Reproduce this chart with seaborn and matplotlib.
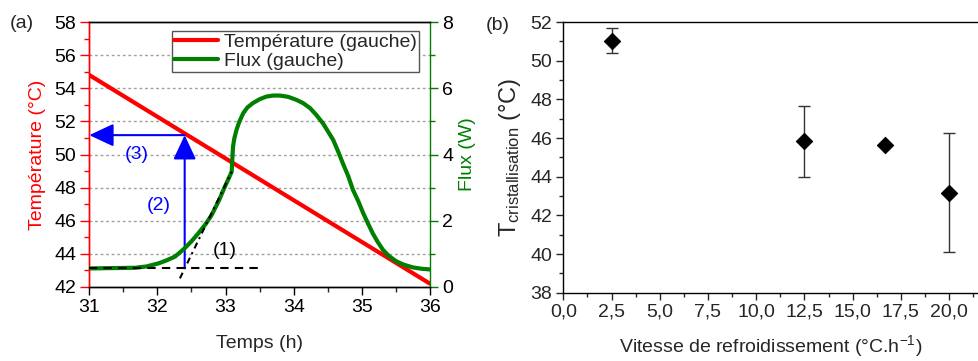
import numpy as np
import pandas as pd
import seaborn as sns
import matplotlib.pyplot as plt
from matplotlib.ticker import MultipleLocator, FuncFormatter
from matplotlib.lines import Line2D

sns.set_style('ticks')
plt.rcParams['font.family'] = ['Liberation Sans', 'DejaVu Sans']
plt.rcParams['mathtext.fontset'] = 'custom'
plt.rcParams['mathtext.rm'] = 'Liberation Sans'
plt.rcParams['mathtext.it'] = 'Liberation Sans'

# ------------------------------------------------------------------------------
# Data
# ------------------------------------------------------------------------------
# (a) temperature ramp (linear) and heat flux vs time
temp_time = [31.0, 36.0]
temp_values = [54.8, 42.2]

flux_time = [31.0, 31.33, 31.67, 31.84, 32.01, 32.13, 32.26, 32.40, 32.50, 32.60,
             32.70, 32.79, 32.90, 32.99, 33.05, 33.09, 33.10, 33.11, 33.13, 33.16,
             33.20, 33.26, 33.32, 33.40, 33.50, 33.60, 33.70, 33.80, 33.92, 34.04,
             34.14, 34.24, 34.33, 34.43, 34.58, 34.65, 34.72, 34.80, 34.87, 34.95,
             35.02, 35.09, 35.16, 35.23, 35.31, 35.40, 35.51, 35.62, 35.75, 35.88, 36.0]
flux_values = [0.56, 0.57, 0.58, 0.62, 0.71, 0.80, 0.92, 1.17, 1.38, 1.62,
               1.88, 2.15, 2.60, 3.03, 3.30, 3.48, 3.90, 4.24, 4.50, 4.74,
               4.98, 5.25, 5.42, 5.55, 5.67, 5.75, 5.78, 5.78, 5.74, 5.65,
               5.55, 5.40, 5.20, 4.94, 4.44, 4.10, 3.74, 3.35, 2.93, 2.58,
               2.23, 1.92, 1.62, 1.37, 1.12, 0.93, 0.77, 0.67, 0.59, 0.55, 0.53]

# construction lines: baseline (1) and tangent at the onset
baseline_time = [31.0, 33.5]
baseline_flux = [0.58, 0.58]
tangent_time = [32.33, 33.09]
tangent_flux = [0.26, 3.48]

# onset time and crystallisation temperature read on the ramp
onset_time = 32.40
onset_temp = 43.17
cryst_temp = 51.17

# (b) crystallisation temperature vs cooling rate
rates = [2.5, 12.5, 16.7, 20.0]
t_cryst = [51.03, 45.83, 45.64, 43.17]
t_err = [0.65, 1.82, 0.0, 3.07]

RED = '#ff0000'
GREEN = '#007f00'
BLUE = '#0000ff'
FS = 14

# ------------------------------------------------------------------------------
# Figure
# ------------------------------------------------------------------------------
fig = plt.figure(figsize=(9.79, 3.61), dpi=100)

# ----- panel (a) -----
ax1 = fig.add_axes([0.0912, 0.205, 0.348, 0.734])
ax2 = ax1.twinx()

df_temp = pd.DataFrame({'t': temp_time, 'T': temp_values})
df_flux = pd.DataFrame({'t': flux_time, 'F': flux_values})

sns.lineplot(data=df_temp, x='t', y='T', ax=ax1, color=RED, lw=3, zorder=3)
sns.lineplot(data=df_flux, x='t', y='F', ax=ax2, color=GREEN, lw=3, zorder=3)
sns.lineplot(x=baseline_time, y=baseline_flux, ax=ax2, color='black', lw=1.5,
             linestyle=(0, (4, 3)), zorder=4)
sns.lineplot(x=tangent_time, y=tangent_flux, ax=ax2, color='black', lw=1.5,
             linestyle=(0, (3, 2, 1, 2)), zorder=4)

ax1.set_xlim(31, 36)
ax1.set_ylim(42, 58)
ax2.set_ylim(0, 8)

ax1.xaxis.set_major_locator(MultipleLocator(1))
ax1.xaxis.set_minor_locator(MultipleLocator(0.5))
ax1.yaxis.set_major_locator(MultipleLocator(2))
ax1.yaxis.set_minor_locator(MultipleLocator(1))
ax2.yaxis.set_major_locator(MultipleLocator(2))
ax2.yaxis.set_minor_locator(MultipleLocator(1))

# dotted horizontal grid
for v in range(44, 58, 2):
    ax1.axhline(v, color='#a0a0a0', lw=1, linestyle=(0, (2, 2)), zorder=0)

ax1.tick_params(axis='x', which='major', direction='out', length=6, width=1,
                labelsize=FS, colors='black', pad=3)
ax1.tick_params(axis='x', which='minor', direction='out', length=3.5, width=1)
ax1.tick_params(axis='y', which='major', direction='out', length=6.5, width=1,
                labelsize=FS, color=RED, labelcolor='black', pad=3)
ax1.tick_params(axis='y', which='minor', direction='out', length=3.5, width=1, color=RED)
ax2.tick_params(axis='y', which='major', direction='out', length=6, width=1,
                labelsize=FS, color=GREEN, labelcolor='black', pad=3)
ax2.tick_params(axis='y', which='minor', direction='out', length=3.5, width=1, color=GREEN)

for a in (ax1, ax2):
    for s in a.spines.values():
        s.set_linewidth(1)
        s.set_color('black')
ax1.spines['left'].set_color(RED)
ax2.spines['left'].set_color(RED)
ax2.spines['right'].set_color(GREEN)
ax1.spines['right'].set_visible(False)

ax1.set_xlabel('Temps (h)', fontsize=FS, labelpad=13)
ax1.set_ylabel('Température (°C)', fontsize=FS, color=RED, labelpad=6)
ax2.set_ylabel('Flux (W)', fontsize=FS, color=GREEN, labelpad=4)

# arrows (2) and (3)
arrow = dict(arrowstyle='-|>,head_width=0.35,head_length=0.75', color=BLUE, lw=1.5,
             mutation_scale=20, shrinkA=0, shrinkB=0)
ax1.annotate('', xy=(onset_time, cryst_temp), xytext=(onset_time, onset_temp),
             arrowprops=arrow, zorder=5)
ax1.annotate('', xy=(31.0, cryst_temp), xytext=(onset_time, cryst_temp),
             arrowprops=arrow, zorder=5, annotation_clip=False)
ax1.text(31.69, 50.0, '(3)', color=BLUE, fontsize=FS, ha='center', va='center')
ax1.text(32.02, 46.9, '(2)', color=BLUE, fontsize=FS, ha='center', va='center')
ax1.text(32.99, 44.2, '(1)', color='black', fontsize=FS, ha='center', va='center')

# legend
handles = [Line2D([], [], color=RED, lw=3), Line2D([], [], color=GREEN, lw=3)]
leg = ax2.legend(handles, ['Température (gauche)', 'Flux (gauche)'],
                 loc='upper right', bbox_to_anchor=(0.968, 0.966), fontsize=FS,
                 frameon=True, fancybox=False, framealpha=1, edgecolor='#555555',
                 borderpad=0.1, labelspacing=0.1, handlelength=2.3,
                 handletextpad=0.3, borderaxespad=0)
leg.get_frame().set_linewidth(1)

fig.text(0.022, 0.936, '(a)', fontsize=FS, ha='center', va='center')

# ----- panel (b) -----
ax3 = fig.add_axes([0.5754, 0.189, 0.4246, 0.750])
ax3.errorbar(rates, t_cryst, yerr=t_err, fmt='none', ecolor='#333333',
             elinewidth=1, capsize=4, capthick=1, zorder=2)
sns.scatterplot(x=rates, y=t_cryst, ax=ax3, marker='D', s=70, color='black',
                edgecolor='black', zorder=3)

ax3.set_xlim(0, 21.55)
ax3.set_ylim(38, 52)
ax3.xaxis.set_major_locator(MultipleLocator(2.5))
ax3.xaxis.set_minor_locator(MultipleLocator(1.25))
ax3.yaxis.set_major_locator(MultipleLocator(2))
ax3.yaxis.set_minor_locator(MultipleLocator(1))
ax3.xaxis.set_major_formatter(FuncFormatter(lambda v, p: f'{v:.1f}'.replace('.', ',')))
ax3.tick_params(which='major', direction='out', length=5, width=1, labelsize=FS, pad=3)
ax3.tick_params(which='minor', direction='out', length=3, width=1)
ax3.spines['right'].set_visible(False)
for s in ax3.spines.values():
    s.set_linewidth(1)
    s.set_color('black')

ax3.set_xlabel('Vitesse de refroidissement (°C.h$^{-1}$)', fontsize=FS, labelpad=9)
ax3.set_ylabel(r'T$_{\mathrm{cristallisation}}$ (°C)', fontsize=17, labelpad=5)

fig.text(0.508, 0.93, '(b)', fontsize=FS, ha='center', va='center')

plt.savefig('out.png', dpi=100)
